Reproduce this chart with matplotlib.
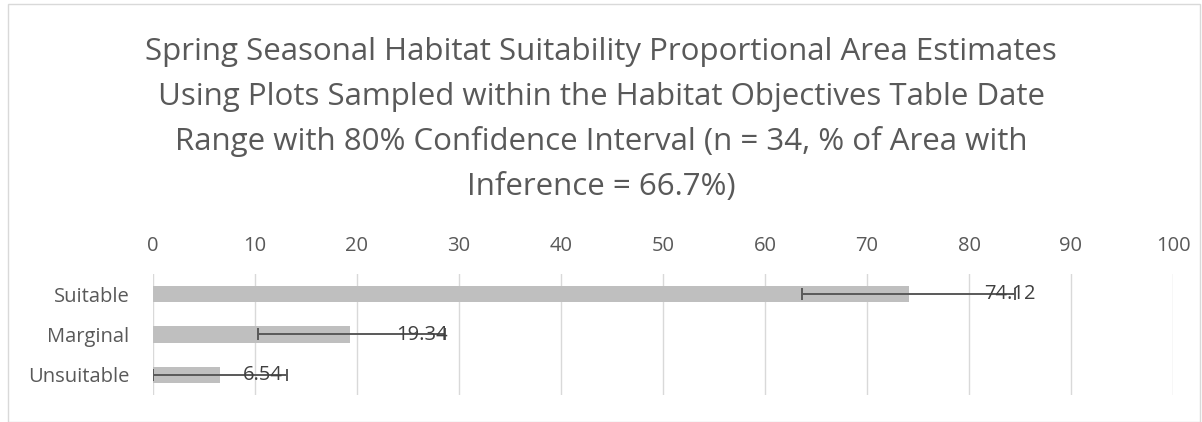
import matplotlib
matplotlib.use("Agg")
import matplotlib.pyplot as plt
from matplotlib.patches import Rectangle

categories = ["Suitable", "Marginal", "Unsuitable"]
values = [74.12, 19.34, 6.54]
err_low = [10.5, 9.0, 6.54]
err_high = [10.4, 9.3, 6.6]
value_labels = ["74.12", "19.34", "6.54"]
xticks = [0, 10, 20, 30, 40, 50, 60, 70, 80, 90, 100]
title_lines = ["Spring Seasonal Habitat Suitability Proportional Area Estimates",
               "Using Plots Sampled within the Habitat Objectives Table Date",
               "Range with 80% Confidence Interval (n = 34, % of Area with",
               "Inference = 66.7%)"]

plt.rcParams['font.family'] = ['Open Sans', 'DejaVu Sans']
W, H = 1202, 422
fig = plt.figure(figsize=(W / 100, H / 100), dpi=100)

# chart border
fig.patches.append(Rectangle((8 / W, 0), (W - 10) / W, (H - 4) / H, transform=fig.transFigure,
                             fill=False, edgecolor='#d9d9d9', linewidth=1))

ax = fig.add_axes([153 / W, 1 - 395 / H, (1173 - 153) / W, (395 - 274) / H])
ypos = list(range(len(categories)))
ax.barh(ypos, values, height=0.4, color='#bfbfbf', zorder=2)
ax.errorbar(values, ypos, xerr=[err_low, err_high], fmt='none', ecolor='#595959',
            elinewidth=1.4, capsize=4.5, capthick=1.4, zorder=3)
label_nudge = [2.0, 0.3, -0.4]
for v, y, eh, lab, nd in zip(values, ypos, err_high, value_labels, label_nudge):
    ax.text(v + eh + nd, y, lab, ha='right', va='center', fontsize=14.5, color='#404040', zorder=4)

ax.set_xlim(0, 100)
ax.set_ylim(len(categories) - 0.5, -0.5)
ax.set_yticks(ypos)
ax.set_yticklabels(categories)
ax.set_xticks(xticks)
ax.xaxis.tick_top()
ax.tick_params(axis='x', length=0, pad=13, labelsize=14.5, labelcolor='#595959')
ax.tick_params(axis='y', length=0, pad=17, labelsize=14.5, labelcolor='#595959')
ax.grid(axis='x', color='#d9d9d9', linewidth=1, zorder=0)
for s in ax.spines.values():
    s.set_visible(False)

for i, line in enumerate(title_lines):
    fig.text(601 / W, 1 - (60 + 45 * i) / H, line, ha='center', va='baseline', fontsize=22.5,
             color='#595959')

fig.savefig("out.png", dpi=100)
